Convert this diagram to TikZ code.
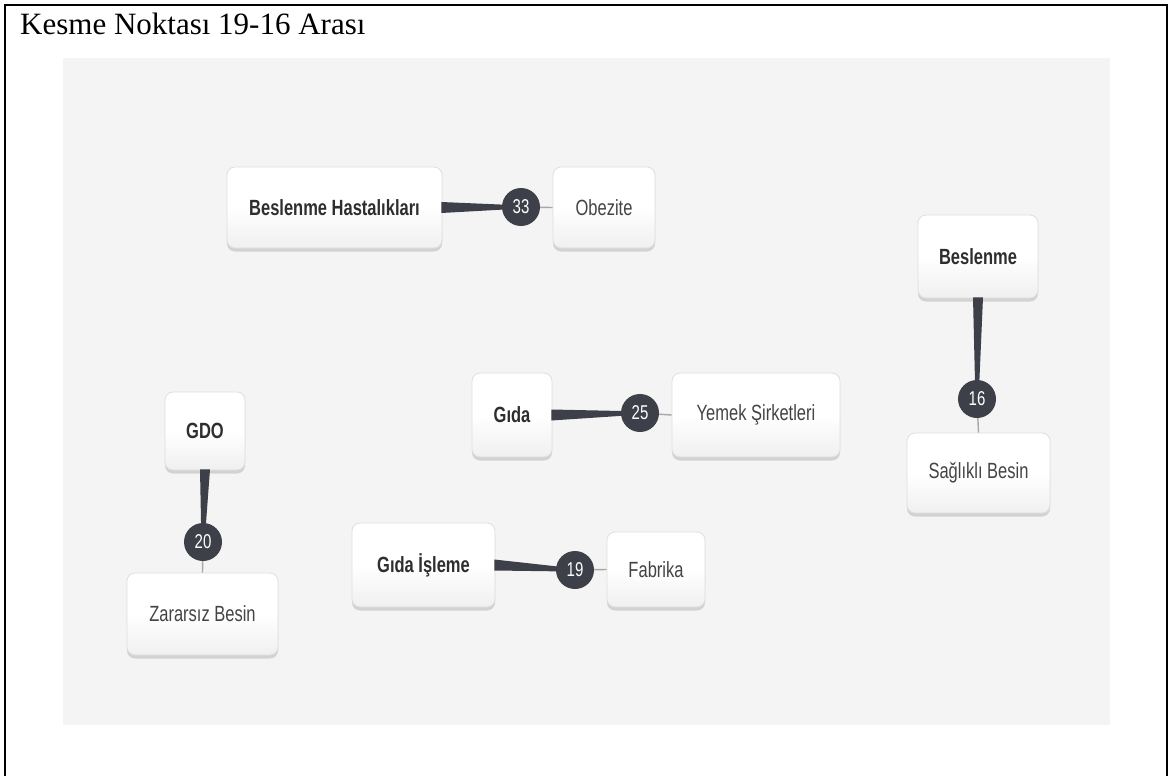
\documentclass[tikz,border=0pt]{standalone}
\usepackage{fontspec}
\setmainfont{Liberation Serif}
\newfontfamily\nodefont[FakeStretch=0.75]{Liberation Sans}
\usetikzlibrary{calc,shadows}
\definecolor{panel}{HTML}{F4F4F4}
\definecolor{edgecol}{HTML}{3D4049}
\definecolor{thinline}{HTML}{A8A8A8}
\definecolor{txtdark}{HTML}{2E2E2E}
\definecolor{txtreg}{HTML}{444444}
\tikzset{
  card/.style={draw=black!13, line width=0.8pt, rounded corners=8pt,
    top color=white, bottom color=black!6, middle color=white,
    drop shadow={shadow xshift=0pt, shadow yshift=-3.5pt, opacity=0.32, fill=black!45},
    inner sep=0pt, align=center},
  srccard/.style={card, font=\nodefont\bfseries\fontsize{22}{26}\selectfont, text=txtdark},
  dstcard/.style={card, font=\nodefont\fontsize{22}{26}\selectfont, text=txtreg},
  badge/.style={circle, fill=edgecol, text=white, minimum size=38pt, inner sep=0pt,
    font=\nodefont\fontsize{20}{22}\selectfont},
  thinedge/.style={draw=thinline, line width=1.4pt},
}
\newcommand{\hwedge}[2]{\fill[edgecol] ($(#1.east)+(-1,-5.5)$) -- ($(#2.center)+(0,-1.6)$) -- ($(#2.center)+(0,1.6)$) -- ($(#1.east)+(-1,5.5)$) -- cycle;}
\newcommand{\vwedge}[2]{\fill[edgecol] ($(#1.south)+(-5,-1)$) -- ($(#2.center)+(-1.6,0)$) -- ($(#2.center)+(1.6,0)$) -- ($(#1.south)+(5,-1)$) -- cycle;}
\begin{document}
\begin{tikzpicture}[x=1pt,y=-1pt]
\useasboundingbox (0,0) rectangle (1170,776);
\fill[white] (0,0) rectangle (1170,776);
% outer frame
\draw[black, line width=2.2pt] (5,790) -- (5,5) -- (1167,5) -- (1167,790);
% title
\node[anchor=base west, inner sep=0pt, font=\fontsize{31}{36}\selectfont] (title) at (20,35) {Kesme Noktası 19-16 Arası};
% panel
\fill[panel] (63,58) rectangle (1110,725);

% nodes
\node[srccard, minimum width=215pt, minimum height=81pt] (bh) at (334.5,207.5) {Beslenme Hastalıkları};
\node[dstcard, minimum width=102pt, minimum height=81pt] (ob) at (604,207.5) {Obezite};
\node[srccard, minimum width=120pt, minimum height=83pt] (bes) at (978,256.5) {Beslenme};
\node[dstcard, minimum width=143pt, minimum height=80pt] (sb) at (978.5,473) {Sağlıklı Besin};
\node[srccard, minimum width=80pt, minimum height=78pt] (gdo) at (205,431) {GDO};
\node[dstcard, minimum width=151pt, minimum height=82pt] (zb) at (202.5,614) {Zararsız Besin};
\node[srccard, minimum width=80pt, minimum height=84pt] (gida) at (512,415) {Gıda};
\node[dstcard, minimum width=168pt, minimum height=84pt] (ys) at (756,415) {Yemek Şirketleri};
\node[srccard, minimum width=143pt, minimum height=84pt] (gi) at (423.5,565) {Gıda İşleme};
\node[dstcard, minimum width=98pt, minimum height=75pt] (fab) at (656,569.5) {Fabrika};

% badge positions
\coordinate (c33) at (521,207);
\coordinate (c16) at (977,399);
\coordinate (c20) at (203,542);
\coordinate (c25) at (640,413);
\coordinate (c19) at (575,570);

% thin connectors badge -> target
\draw[thinedge] (c33) -- (ob.west);
\draw[thinedge] (c16) -- (sb.north);
\draw[thinedge] (c20) -- (zb.north);
\draw[thinedge] (c25) -- (ys.west);
\draw[thinedge] (c19) -- (fab.west);

% wedges source -> badge
\hwedge{bh}{c33}
\vwedge{bes}{c16}
\vwedge{gdo}{c20}
\hwedge{gida}{c25}
\hwedge{gi}{c19}

\node[badge] (b33) at (c33) {33};
\node[badge] (b16) at (c16) {16};
\node[badge] (b20) at (c20) {20};
\node[badge] (b25) at (c25) {25};
\node[badge] (b19) at (c19) {19};
\end{tikzpicture}
\end{document}
